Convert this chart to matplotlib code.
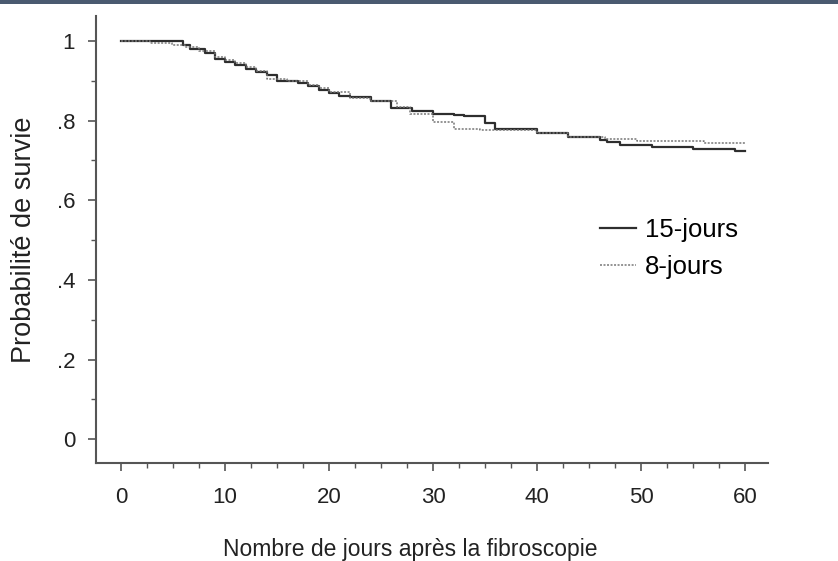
import numpy as np
import matplotlib.pyplot as plt
from matplotlib.patches import Rectangle

# Kaplan-Meier step curves
t_15 = [0, 6, 6.6, 8.1, 9, 10, 11, 12, 13, 14, 15, 17, 18, 19, 20, 21, 22,
        24, 26, 28, 30, 32, 33, 35, 36, 40, 43, 46, 46.7, 48, 51, 55, 59, 60]
s_15 = [1.0, 0.99, 0.979, 0.969, 0.954, 0.948, 0.94, 0.931, 0.923, 0.915, 0.90,
        0.894, 0.887, 0.877, 0.870, 0.862, 0.859, 0.849, 0.833, 0.825, 0.818,
        0.815, 0.812, 0.795, 0.778, 0.770, 0.758, 0.752, 0.747, 0.739, 0.734,
        0.729, 0.723, 0.723]

t_8 = [0, 2.8, 4.9, 6.2, 7.5, 9, 10, 11, 12, 13, 14, 16, 18, 19, 20, 22, 23.9,
       26.5, 27.8, 30, 32, 34.5, 40, 43, 46.5, 49.6, 56, 60]
s_8 = [1.0, 0.996, 0.99, 0.985, 0.975, 0.961, 0.952, 0.944, 0.935, 0.925,
       0.904, 0.90, 0.89, 0.882, 0.872, 0.858, 0.850, 0.835, 0.818, 0.797,
       0.778, 0.776, 0.770, 0.760, 0.755, 0.750, 0.745, 0.745]

labels = ["15-jours", "8-jours"]

plt.rcParams['font.family'] = ['Liberation Sans', 'DejaVu Sans']

fig = plt.figure(figsize=(8.38, 5.61), dpi=100)
ax = fig.add_axes([0.1146, 0.1747, 0.8019, 0.7968])

ax.step(t_15, s_15, where="post", color="#2e2e2e", lw=1.6, label=labels[0])
ax.step(t_8, s_8, where="post", color="#777777", lw=1.1,
        dashes=(1.3, 1.0), label=labels[1])

ax.set_xlim(-2.4, 62.2)
ax.set_ylim(-0.06, 1.063)

ax.set_xticks(np.arange(0, 61, 10))
ax.set_xticks(np.arange(0, 61, 2.5), minor=True)
ax.set_yticks(np.arange(0, 1.01, 0.2))
ax.set_yticklabels(["0", ".2", ".4", ".6", ".8", "1"])
ax.set_yticks(np.arange(0, 1.01, 0.1), minor=True)

for side in ["top", "right"]:
    ax.spines[side].set_visible(False)
for side in ["left", "bottom"]:
    ax.spines[side].set_color("#555555")
    ax.spines[side].set_linewidth(1.5)

ax.tick_params(which="major", length=6, width=1.2, color="#555555",
               labelsize=16, labelcolor="#222222")
ax.tick_params(which="minor", length=3.5, width=1.0, color="#555555")
ax.tick_params(axis="x", which="major", pad=11)
ax.tick_params(axis="y", which="major", pad=9)

ax.set_xlabel("Nombre de jours après la fibroscopie", fontsize=16.5,
              color="#222222")
ax.xaxis.set_label_coords(0.467, -0.168)
ax.set_ylabel("Probabilité de survie", fontsize=19.5, color="#222222",
              labelpad=14)

ax.legend(loc="upper left", bbox_to_anchor=(0.75, 0.549), frameon=False,
          fontsize=18.5, handlelength=1.4, handletextpad=0.35,
          labelspacing=0.53, borderpad=0, borderaxespad=0)

# dark band across the top of the image
fig.add_artist(Rectangle((0, 0.993), 1, 0.007, transform=fig.transFigure,
                         color="#4a5a70", lw=0))

fig.savefig("out.png", dpi=100)
